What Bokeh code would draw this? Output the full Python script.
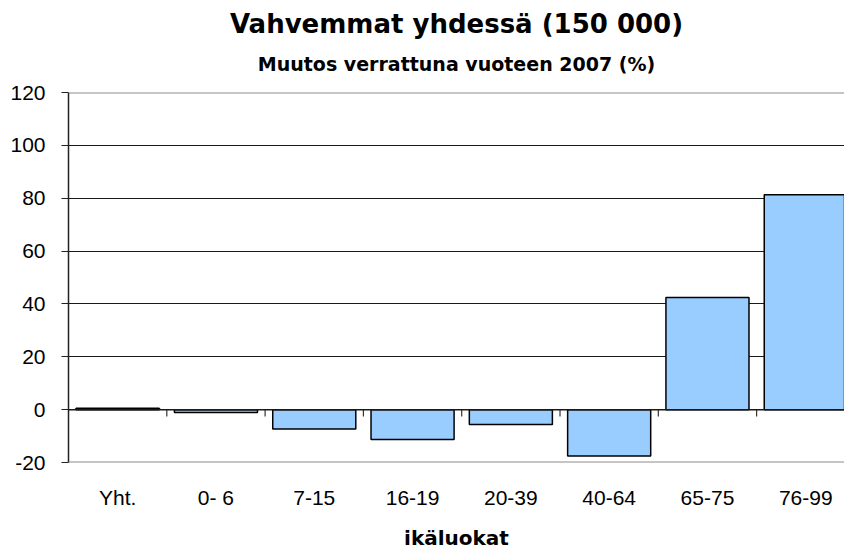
from bokeh.plotting import figure
from bokeh.models import Range1d, FixedTicker, Span, Title, ColumnDataSource
from bokeh.embed import file_html
from bokeh.resources import INLINE

categories = ["Yht.", "0- 6", "7-15", "16-19", "20-39", "40-64", "65-75", "76-99"]
values = [0.5, -1.1, -7.3, -11.3, -5.6, -17.5, 42.4, 81.3]
y_ticks = [-20, 0, 20, 40, 60, 80, 100, 120]
y_tick_labels = ["-20", "0", "20", "40", "60", "80", "100", "120"]

FONT = "Liberation Sans"
TFONT = "DejaVu Sans"

xs = [i + 0.5 for i in range(len(categories))]
source = ColumnDataSource(dict(x=xs, top=values, cat=categories))

p = figure(width=844, height=552, output_backend="svg", toolbar_location=None,
           x_range=Range1d(0, 7.894), y_range=Range1d(-20, 120),
           min_border_left=68, min_border_right=0, min_border_top=0,
           min_border_bottom=0)
p.background_fill_color = "white"
p.border_fill_color = "white"
p.outline_line_color = None

# titles (subtitle first so main title sits above it)
sub = Title(text="Muutos verrattuna vuoteen 2007 (%)", align="center",
            text_font=TFONT, text_font_style="bold", text_font_size="19px",
            text_color="black", standoff=35)
main = Title(text="Vahvemmat yhdessä (150 000)", align="center",
             text_font=TFONT, text_font_style="bold", text_font_size="26px",
             text_color="black", standoff=-11)
spacer = Title(text=" ", text_font_size="9px", standoff=0)
p.add_layout(sub, "above")
p.add_layout(main, "above")
p.add_layout(spacer, "above")

# grid
p.xgrid.grid_line_color = None
p.ygrid.ticker = FixedTicker(ticks=y_ticks)
p.ygrid.grid_line_color = "#1a1a1a"
p.ygrid.grid_line_width = 1

# y axis
p.yaxis.ticker = FixedTicker(ticks=y_ticks)
p.yaxis.major_label_overrides = {t: s for t, s in zip(y_ticks, y_tick_labels)}
p.yaxis.axis_line_color = "#222222"
p.yaxis.axis_line_width = 1.5
p.yaxis.major_tick_line_color = "#222222"
p.yaxis.major_tick_out = 7
p.yaxis.major_tick_in = 0
p.yaxis.minor_tick_line_color = None
p.yaxis.major_label_text_font = FONT
p.yaxis.major_label_text_font_size = "21px"
p.yaxis.major_label_text_color = "black"
p.yaxis.major_label_standoff = 16

# x axis (category labels)
p.xaxis.ticker = FixedTicker(ticks=xs)
p.xaxis.major_label_overrides = {x: c for x, c in zip(xs, categories)}
p.xaxis.axis_line_color = None
p.xaxis.major_tick_line_color = None
p.xaxis.minor_tick_line_color = None
p.xaxis.major_label_text_font = FONT
p.xaxis.major_label_text_font_size = "21px"
p.xaxis.major_label_text_color = "black"
p.xaxis.major_label_standoff = 17
p.xaxis.axis_label = "ikäluokat"
p.xaxis.axis_label_text_font = TFONT
p.xaxis.axis_label_text_font_style = "bold"
p.xaxis.axis_label_text_font_size = "20px"
p.xaxis.axis_label_text_color = "black"
p.xaxis.axis_label_standoff = 14

# plot area top/bottom border (gray)
for loc in (y_ticks[0], y_ticks[-1]):
    p.add_layout(Span(location=loc, dimension="width", line_color="#8c8c8c", line_width=2))

# bars
p.vbar(x="x", top="top", bottom=0, width=0.845, source=source,
       fill_color="#99CCFF", line_color="black", line_width=1.5)

# zero axis line with category-boundary ticks
p.add_layout(Span(location=0, dimension="width", line_color="#1a1a1a", line_width=1.5))
bounds = [i for i in range(1, len(categories))]
p.segment(x0=bounds, y0=[0] * len(bounds), x1=bounds, y1=[-2.6] * len(bounds),
          line_color="#333333", line_width=1.2)

open("out.html", "w").write(file_html(p, INLINE))
